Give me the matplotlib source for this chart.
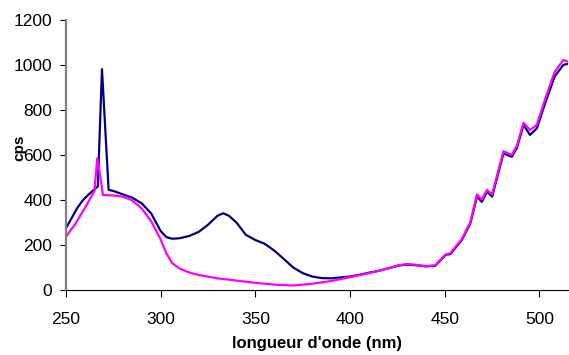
import matplotlib
matplotlib.use("Agg")
import matplotlib.pyplot as plt

# longueur d'onde (nm) / cps - courbe bleue
wl_bleu = [250, 253, 256, 259, 262, 265, 266.8, 269, 272.5, 275, 280, 285, 290, 295,
           300, 303, 306, 310, 315, 320, 325, 330, 333, 336, 340, 345, 350, 355,
           360, 365, 370, 375, 380, 385, 390, 395, 400, 405, 410, 415, 420, 425,
           430, 435, 440, 445, 450.4, 453, 459, 463.5, 467, 469.6, 472.3, 475,
           481, 485.4, 488, 491.6, 495, 498.6, 503, 508, 512.6, 515]
cps_bleu = [275, 320, 365, 400, 425, 447, 460, 981, 445, 440, 425, 410, 385, 340,
            262, 235, 228, 230, 240, 258, 290, 330, 341, 330, 300, 245, 222, 205,
            175, 138, 100, 75, 60, 53, 52, 56, 60, 68, 77, 85, 96, 108,
            113, 110, 105, 108, 156, 160, 222, 296, 415, 392, 437, 415,
            607, 592, 630, 733, 689, 718, 830, 948, 1000, 1005]

# courbe magenta
wl_mag = [250, 255, 260, 263, 265, 266.5, 268, 269.5, 275, 280, 285, 290, 295,
          300, 303, 306, 310, 315, 320, 330, 340, 350, 360, 370, 380, 390, 400,
          410, 420, 425, 430, 435, 440, 445, 450.4, 453, 459, 463.5, 467, 469.6,
          472.3, 475, 481, 485.4, 488, 491.6, 495, 498.6, 503, 508, 512.6, 515]
cps_mag = [237, 295, 365, 410, 440, 585, 510, 422, 420, 415, 398, 362, 305,
           225, 163, 120, 95, 78, 67, 52, 42, 32, 24, 20, 28, 40, 57,
           75, 96, 108, 116, 112, 106, 110, 158, 164, 226, 302, 425, 402,
           445, 425, 617, 600, 640, 743, 711, 733, 848, 968, 1022, 1015]

plt.rcParams['font.family'] = ['Liberation Sans', 'DejaVu Sans']

fig = plt.figure(figsize=(5.69, 3.55), dpi=100)
ax = fig.add_axes([0.116, 0.183, 0.882, 0.761])

ax.plot(wl_bleu, cps_bleu, color='#000080', lw=1.6)
ax.plot(wl_mag, cps_mag, color='#FF00FF', lw=1.6)

ax.set_xlim(250, 515)
ax.set_ylim(0, 1200)
ax.set_xticks([250, 300, 350, 400, 450, 500])
ax.set_yticks(range(0, 1201, 200))

ax.spines['top'].set_visible(False)
ax.spines['right'].set_visible(False)
ax.spines['left'].set_color('#808080')
ax.spines['left'].set_linewidth(1.6)
ax.spines['bottom'].set_color('black')
ax.spines['bottom'].set_linewidth(0.8)
ax.tick_params(axis='y', length=4, width=0.8, labelsize=12.5, pad=6)
ax.tick_params(axis='x', length=5, width=0.8, labelsize=12.5, pad=11)

fig.text(19 / 569, 1 - 148 / 355, 'cps', rotation=90, ha='center', va='center',
         fontsize=11, fontweight='bold')
ax.set_xlabel("longueur d'onde (nm)", fontsize=12, fontweight='bold', labelpad=6)

fig.savefig('out.png', dpi=100)
